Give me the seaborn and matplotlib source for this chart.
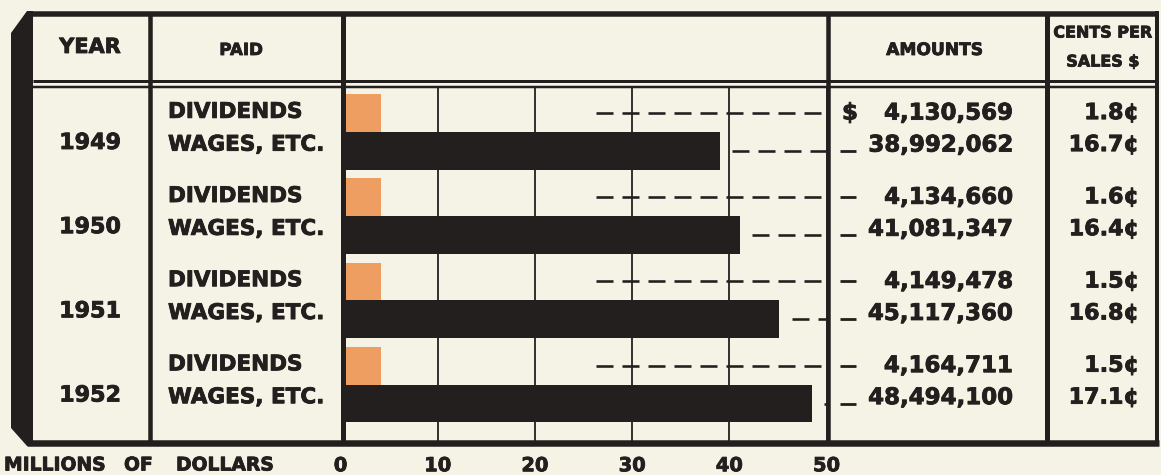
import matplotlib
matplotlib.use("Agg")
import matplotlib.pyplot as plt
import matplotlib.transforms as mtransforms
import matplotlib.patheffects as pe
from matplotlib.patches import Polygon
import pandas as pd
import seaborn as sns

# ---- data -------------------------------------------------------------
years = ["1949", "1950", "1951", "1952"]
kinds = ["DIVIDENDS", "WAGES, ETC."]
dividends = [4130569, 4134660, 4149478, 4164711]
wages = [38992062, 41081347, 45117360, 48494100]
cents_dividends = [1.8, 1.6, 1.5, 1.5]
cents_wages = [16.7, 16.4, 16.8, 17.1]
x_ticks = [0, 10, 20, 30, 40, 50]

# ---- style ------------------------------------------------------------
PAPER = "#F5F2E6"
INK = "#231F1E"
ORANGE = "#EE9E61"
PX = 72 / 100  # points per pixel at dpi=100
HEAVY = [pe.withStroke(linewidth=0.6, foreground=INK)]

sns.set_theme(style="white")
plt.rcParams["font.family"] = ["DejaVu Sans"]
plt.rcParams["font.weight"] = "bold"
plt.rcParams["lines.scale_dashes"] = False

rows = []
for y, d, w in zip(years, dividends, wages):
    rows.append({"year": y, "kind": kinds[0], "millions": d / 1e6})
    rows.append({"year": y, "kind": kinds[1], "millions": w / 1e6})
df = pd.DataFrame(rows)

W, H = 1161, 475
fig = plt.figure(figsize=(W / 100, H / 100), dpi=100, facecolor=PAPER)

# bar panel between the PAID and AMOUNTS columns
x0, x1 = 340.5, 826.5
y_top, y_bot = 86, 441
ax = fig.add_axes([x0 / W, 1 - y_bot / H, (x1 - x0) / W, (y_bot - y_top) / H])
ax.set_facecolor(PAPER)
ax.set_zorder(1)

sns.barplot(data=df, x="millions", y="year", hue="kind", order=years,
            hue_order=kinds, palette=[ORANGE, INK], width=0.9, dodge=True,
            orient="h", legend=False, saturation=1, errorbar=None,
            linewidth=0, ax=ax)

ax.set_xlim(0, 50)
ax.set_ylim(3.67, -0.547)
ax.set_xlabel("")
ax.set_ylabel("")
ax.set_yticks([])
ax.set_xticks(x_ticks)
ax.set_xticklabels([str(t) for t in x_ticks], fontsize=14, fontweight="bold", color=INK)
for lab in ax.get_xticklabels():
    lab.set_path_effects(HEAVY)
ax.tick_params(axis="x", length=0, pad=11)
ax.set_axisbelow(True)
ax.grid(axis="x", color=INK, linewidth=1.8 * PX)
ax.grid(axis="y", visible=False)
for s in ax.spines.values():
    s.set_visible(False)

# dashed leaders running from the bars to the amounts column
dash = (0, (17 * PX, 9 * PX))
for i, w in enumerate(wages):
    ax.plot([26.3, 50], [i - 0.225] * 2, color=INK, lw=2.6 * PX,
            linestyle=dash, dash_capstyle="butt", zorder=4)
    ax.plot([w / 1e6 + 1.3, 50], [i + 0.225] * 2, color=INK, lw=2.6 * PX,
            linestyle=dash, dash_capstyle="butt", zorder=4)

# ---- table frame and text (pixel coordinates) ---------------------------
ov = fig.add_axes([0, 0, 1, 1])
ov.set_xlim(0, W)
ov.set_ylim(H, 0)
ov.axis("off")
ov.set_zorder(2)
ov.patch.set_alpha(0)

row_tf = mtransforms.blended_transform_factory(ov.transData, ax.transData)


def hline(y, xa, xb, lw):
    ov.plot([xa, xb], [y, y], color=INK, lw=lw * PX, solid_capstyle="butt")


def vline(x, ya, yb, lw):
    ov.plot([x, x], [ya, yb], color=INK, lw=lw * PX, solid_capstyle="butt")


def label(x, y, s, size, ha="left", tf=None, **kw):
    ov.text(x, y, s, ha=ha, va="center", fontsize=size, color=INK,
            transform=tf if tf is not None else ov.transData,
            path_effects=HEAVY, **kw)


# raised left edge
ov.add_patch(Polygon([(11, 33), (27, 11), (33, 11), (33, 446), (27, 446), (11, 428)],
                     closed=True, facecolor=INK, edgecolor="none"))
hline(13.5, 27, 1159, 5.5)
hline(442.5, 27, 1159, 6.5)
vline(1157, 11, 446, 4)
hline(81, 33, 1157, 3)
hline(86.5, 33, 1157, 2.5)
for xd, lw in [(150, 4.5), (342.5, 5), (827.5, 4.5), (1046.5, 5)]:
    vline(xd, 13, 442, lw)

# headers
label(90, 47, "YEAR", 15, ha="center")
label(241, 50, "PAID", 12, ha="center")
label(935, 50, "AMOUNTS", 12.3, ha="center")
label(1103, 33, "CENTS PER", 11.5, ha="center")
label(1103, 62, "SALES $", 11.5, ha="center")

for i, yr in enumerate(years):
    label(90, i + 0.13, yr, 16, ha="center", tf=row_tf)
    label(168, i - 0.24, kinds[0], 15.5, tf=row_tf)
    label(168, i + 0.15, kinds[1], 15.5, tf=row_tf)

    label(1013, i - 0.225, f"{dividends[i]:,}", 16.5, ha="right", tf=row_tf)
    label(1013, i + 0.155, f"{wages[i]:,}", 16.5, ha="right", tf=row_tf)
    label(1139, i - 0.225, f"{cents_dividends[i]:.1f}¢", 16, ha="right", tf=row_tf)
    label(1139, i + 0.155, f"{cents_wages[i]:.1f}¢", 16, ha="right", tf=row_tf)

    if i == 0:
        label(842, i - 0.225, "$", 16.5, tf=row_tf)
    else:
        ov.plot([840, 856], [i - 0.225] * 2, transform=row_tf, color=INK,
                lw=2.8 * PX, solid_capstyle="butt")
    ov.plot([840, 856], [i + 0.225] * 2, transform=row_tf, color=INK,
            lw=2.8 * PX, solid_capstyle="butt")

# axis caption
for word, xw in [("MILLIONS", 4), ("OF", 124), ("DOLLARS", 176)]:
    label(xw, 465, word, 13.5)

fig.savefig("out.png", dpi=100, facecolor=PAPER)
